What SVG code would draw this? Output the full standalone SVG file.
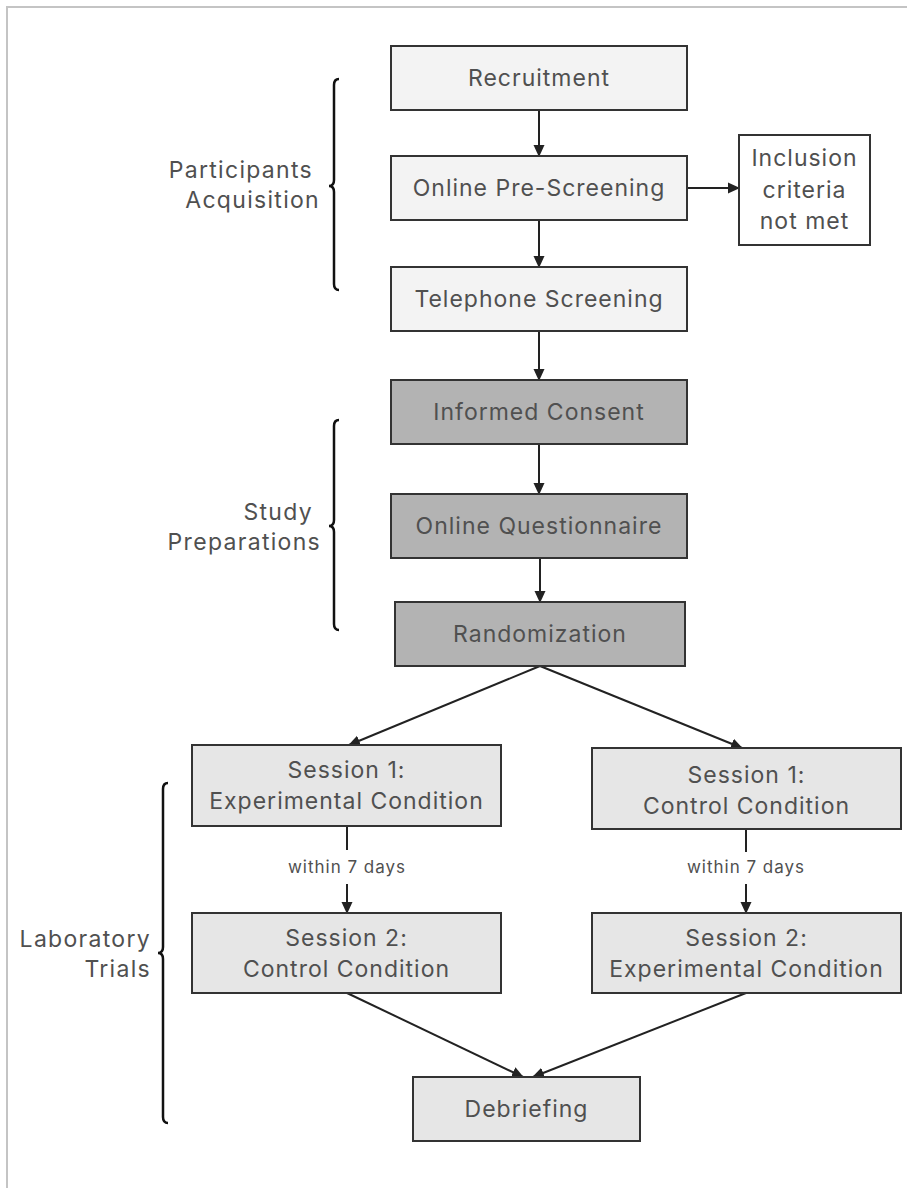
<svg xmlns="http://www.w3.org/2000/svg" width="907" height="1188" viewBox="0 0 907 1188">
<style>
.box{stroke:#333;stroke-width:2}
.l1{fill:#f3f3f3}
.l2{fill:#b3b3b3}
.l3{fill:#e6e6e6}
.wh{fill:#fff}
text{font-family:Inter,"Liberation Sans",sans-serif;fill:#505050;dominant-baseline:central}
.t{font-size:23px;letter-spacing:1px;text-anchor:middle}
.g{font-size:23px;letter-spacing:1.3px;text-anchor:end}
.s{font-size:17px;letter-spacing:1px;text-anchor:middle}
.c{stroke:#222;stroke-width:2;fill:none}
.br{stroke:#111;stroke-width:2.5;fill:none}
</style>
<defs>
<marker id="ah" markerUnits="userSpaceOnUse" markerWidth="12" markerHeight="12" refX="11" refY="6" orient="auto">
<path d="M0,0.5 L12,6 L0,11.5 z" fill="#222"/>
</marker>
</defs>
<rect width="907" height="1188" fill="#fff"/>
<path d="M7,1188 V7 H907" stroke="#c4c4c4" stroke-width="2" fill="none"/>

<g id="braces">
<path class="br" d="M339,79 Q334,79 334,85 L334,180 Q334,186 329,186 Q334,186 334,192 L334,284 Q334,290 339,290"/>
<path class="br" d="M339,420 Q334,420 334,426 L334,520 Q334,526 329,526 Q334,526 334,532 L334,624 Q334,630 339,630"/>
<path class="br" d="M168,783 Q163,783 163,789 L163,947 Q163,953 158,953 Q163,953 163,959 L163,1117 Q163,1123 168,1123"/>
</g>
<g id="group-labels">
<text class="g" x="313" y="170">Participants</text>
<text class="g" x="320" y="200">Acquisition</text>
<text class="g" x="313" y="512">Study</text>
<text class="g" x="321" y="542">Preparations</text>
<text class="g" x="151" y="939">Laboratory</text>
<text class="g" x="151" y="969">Trials</text>
</g>

<g id="connectors">
<line class="c" x1="539" y1="110" x2="539" y2="156" marker-end="url(#ah)"/>
<line class="c" x1="539" y1="220" x2="539" y2="267" marker-end="url(#ah)"/>
<line class="c" x1="687" y1="188" x2="739" y2="188" marker-end="url(#ah)"/>
<line class="c" x1="539" y1="331" x2="539" y2="380" marker-end="url(#ah)"/>
<line class="c" x1="539" y1="444" x2="539" y2="494" marker-end="url(#ah)"/>
<line class="c" x1="540" y1="558" x2="540" y2="602" marker-end="url(#ah)"/>
<line class="c" x1="540" y1="666" x2="349" y2="745" marker-end="url(#ah)"/>
<line class="c" x1="540" y1="666" x2="742" y2="748" marker-end="url(#ah)"/>
<line class="c" x1="347" y1="826" x2="347" y2="850"/>
<line class="c" x1="347" y1="884" x2="347" y2="913" marker-end="url(#ah)"/>
<line class="c" x1="746" y1="829" x2="746" y2="852"/>
<line class="c" x1="746" y1="884" x2="746" y2="913" marker-end="url(#ah)"/>
<line class="c" x1="347" y1="993" x2="523" y2="1077" marker-end="url(#ah)"/>
<line class="c" x1="746" y1="993" x2="533" y2="1077" marker-end="url(#ah)"/>
<text class="s" x="347" y="867">within 7 days</text>
<text class="s" x="746" y="867">within 7 days</text>
</g>

<g id="recruitment"><rect class="box l1" x="391" y="46" width="296" height="64"/><text class="t" x="539" y="78">Recruitment</text></g>
<g id="prescreening"><rect class="box l1" x="391" y="156" width="296" height="64"/><text class="t" x="539" y="188">Online Pre-Screening</text></g>
<g id="inclusion"><rect class="box wh" x="739" y="135" width="131" height="110"/><text class="t" x="804.5" y="158">Inclusion</text><text class="t" x="804.5" y="190">criteria</text><text class="t" x="804.5" y="221">not met</text></g>
<g id="telephone"><rect class="box l1" x="391" y="267" width="296" height="64"/><text class="t" x="539" y="299">Telephone Screening</text></g>
<g id="consent"><rect class="box l2" x="391" y="380" width="296" height="64"/><text class="t" x="539" y="412">Informed Consent</text></g>
<g id="questionnaire"><rect class="box l2" x="391" y="494" width="296" height="64"/><text class="t" x="539" y="526">Online Questionnaire</text></g>
<g id="randomization"><rect class="box l2" x="395" y="602" width="290" height="64"/><text class="t" x="540" y="634">Randomization</text></g>
<g id="s1-exp"><rect class="box l3" x="192" y="745" width="309" height="81"/><text class="t" x="346.5" y="770">Session 1:</text><text class="t" x="346.5" y="801">Experimental Condition</text></g>
<g id="s1-ctrl"><rect class="box l3" x="592" y="748" width="309" height="81"/><text class="t" x="746.5" y="775">Session 1:</text><text class="t" x="746.5" y="806">Control Condition</text></g>
<g id="s2-ctrl"><rect class="box l3" x="192" y="913" width="309" height="80"/><text class="t" x="346.5" y="938">Session 2:</text><text class="t" x="346.5" y="969">Control Condition</text></g>
<g id="s2-exp"><rect class="box l3" x="592" y="913" width="309" height="80"/><text class="t" x="746.5" y="938">Session 2:</text><text class="t" x="746.5" y="969">Experimental Condition</text></g>
<g id="debriefing"><rect class="box l3" x="413" y="1077" width="227" height="64"/><text class="t" x="526.5" y="1109">Debriefing</text></g>
</svg>
